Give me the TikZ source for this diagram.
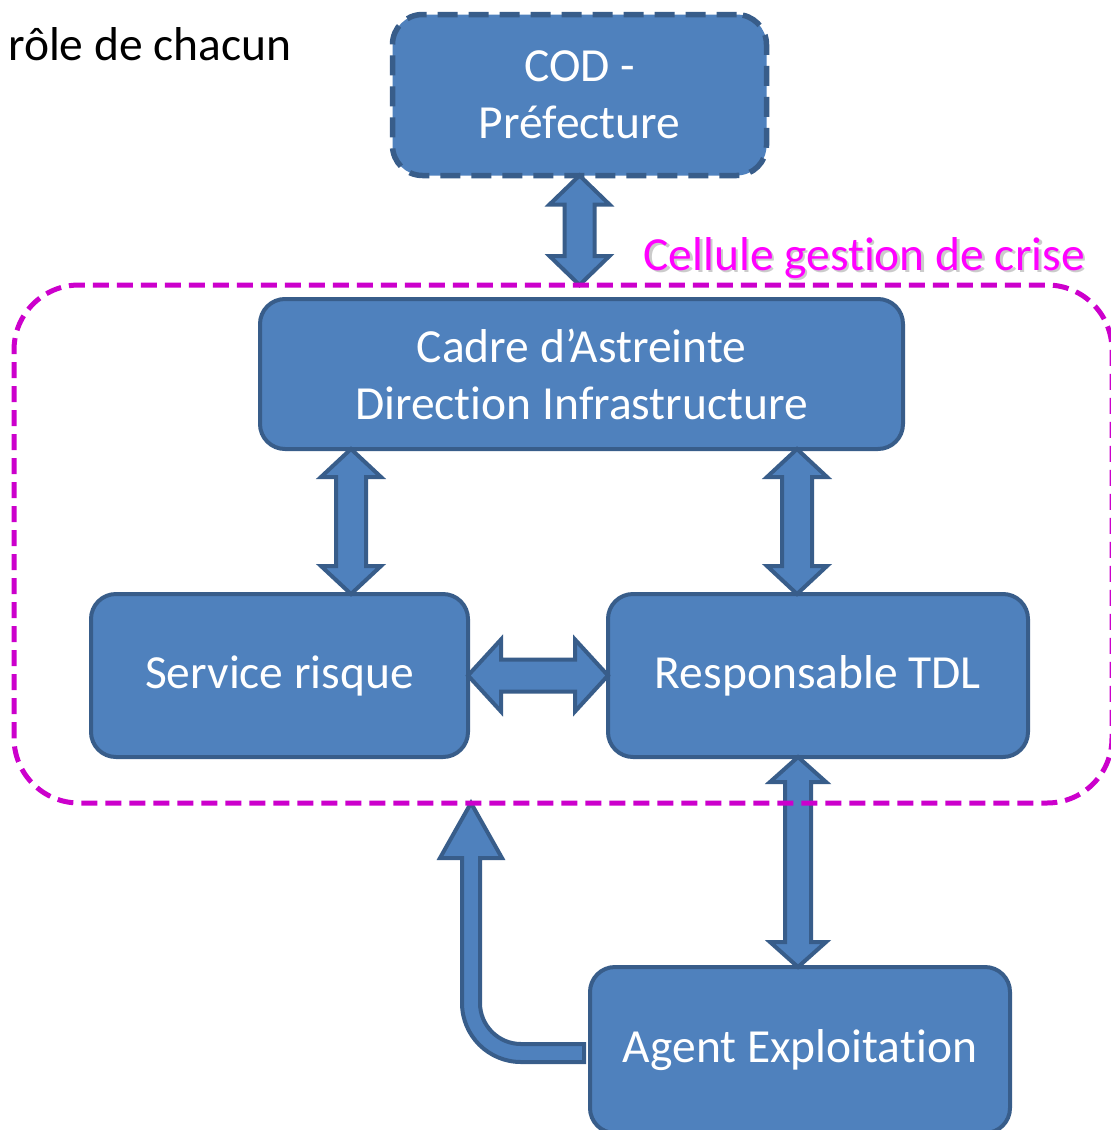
\documentclass[tikz,border=0pt]{standalone}
\usepackage{fontspec}
\setmainfont{Carlito}[Ligatures={NoCommon}, RawFeature={-liga;-dlig}]
\usetikzlibrary{calc}

\definecolor{boxfill}{HTML}{4F81BD}
\definecolor{boxline}{HTML}{385D8A}
\definecolor{crisis}{HTML}{CC00CC}
\definecolor{crisistext}{HTML}{FF00FF}

% vertical double block arrow: #1 top point, #2 bottom point,
% #3 half shaft, #4 half head, #5 head length (pt)
\newcommand{\VBiArrow}[5]{%
  \draw[blockarrow] let \p1=(#1), \p2=(#2) in
    (\x1,\y1) -- (\x1+#4pt,\y1-#5pt) -- (\x1+#3pt,\y1-#5pt)
    -- (\x1+#3pt,\y2+#5pt) -- (\x1+#4pt,\y2+#5pt) -- (\x1,\y2)
    -- (\x1-#4pt,\y2+#5pt) -- (\x1-#3pt,\y2+#5pt)
    -- (\x1-#3pt,\y1-#5pt) -- (\x1-#4pt,\y1-#5pt) -- cycle;}

% horizontal double block arrow: #1 left point, #2 right point
\newcommand{\HBiArrow}[5]{%
  \draw[blockarrow] let \p1=(#1), \p2=(#2) in
    (\x1,\y1) -- (\x1+#5pt,\y1+#4pt) -- (\x1+#5pt,\y1+#3pt)
    -- (\x2-#5pt,\y1+#3pt) -- (\x2-#5pt,\y1+#4pt) -- (\x2,\y1)
    -- (\x2-#5pt,\y1-#4pt) -- (\x2-#5pt,\y1-#3pt)
    -- (\x1+#5pt,\y1-#3pt) -- (\x1+#5pt,\y1-#4pt) -- cycle;}

\tikzset{
  blockarrow/.style={fill=boxfill, draw=boxline, line width=4pt, line join=miter},
  rolebox/.style={rectangle, rounded corners=25pt, fill=boxfill, draw=boxline,
    line width=4pt, inner sep=0pt, outer sep=0pt, text=white, align=center,
    font=\fontsize{47.5}{57}\selectfont},
  codbox/.style={rolebox, rounded corners=30pt, line width=5.5pt,
    dash pattern=on 20pt off 11pt},
  crisisframe/.style={draw=crisis, line width=5pt, rounded corners=65pt,
    dash pattern=on 16pt off 8pt},
  bigtext/.style={font=\fontsize{47.5}{57}\selectfont, inner sep=0pt}
}

\begin{document}
\begin{tikzpicture}[x=1pt, y=-1pt]
  \clip (0,0) rectangle (1111,1130);
  \fill[white] (0,0) rectangle (1111,1130);

  % title in the corner
  \node[bigtext, anchor=base west] (title) at (8,60) {rôle de chacun};

  % the crisis cell frame (drawn later, on top of the arrows)
  \path (563,544) node[minimum width=1098pt, minimum height=518pt,
    inner sep=0pt, outer sep=0pt] (cellule) {};

  % boxes
  \node[codbox, minimum width=374pt, minimum height=161pt] (cod)
    at (579.5,95) {COD -\\Préfecture};
  \node[rolebox, minimum width=643pt, minimum height=150pt] (cadre)
    at (581.5,374) {Cadre d’Astreinte\\Direction Infrastructure};
  \node[rolebox, minimum width=377pt, minimum height=163pt] (svc)
    at (279.5,675.5) {\raisebox{-3pt}{Service risque}};
  \node[rolebox, minimum width=420pt, minimum height=163pt] (tdl)
    at (818,675.5) {\raisebox{-3pt}{Responsable TDL}};
  \node[rolebox, minimum width=420pt, minimum height=166pt] (agent)
    at (800,1050) {\raisebox{-3pt}{Agent Exploitation}};

  % label of the crisis cell, with its soft shadow
  \node[bigtext, anchor=base east, text=black!40, opacity=0.5] (celluleshadow)
    at (1087.5,272.5) {Cellule gestion de crise};
  \node[bigtext, anchor=base east, text=crisistext] (cellulelabel)
    at (1085,270) {Cellule gestion de crise};

  % connector end points
  \coordinate (codbot) at (cod.south);
  \coordinate (celltop) at (cod.south |- cellule.north);
  \coordinate (cadreL) at ([xshift=-230.5pt]cadre.south);
  \coordinate (svcTop) at (cadreL |- svc.north);
  \coordinate (cadreR) at ([xshift=215.5pt]cadre.south);
  \coordinate (tdlTop) at (cadreR |- tdl.north);
  \coordinate (tdlBot) at ([xshift=-20pt]tdl.south);
  \coordinate (agentTop) at (tdlBot |- agent.north);
  \coordinate (cellBot) at ([xshift=-92pt]cellule.south);
  \coordinate (agentTail) at ([shift={(-6pt,-3pt)}]agent.west);

  % block arrows
  \VBiArrow{codbot}{celltop}{15}{30}{29}
  \VBiArrow{cadreL}{svcTop}{15}{30}{28}
  \VBiArrow{cadreR}{tdlTop}{15}{30}{28}
  \HBiArrow{svc.east}{tdl.west}{16}{36}{33}
  \VBiArrow{tdlBot}{agentTop}{13}{28}{25}

  % bent arrow from the field agent up to the crisis cell
  \draw[blockarrow] let \p1=(cellBot), \p2=(agentTail) in
    (\x1,\y1) -- (\x1+31pt,\y1-55pt) -- (\x1+9pt,\y1-55pt)
    -- (\x1+9pt,\y2+50pt)
    .. controls (\x1+9pt,\y2+27.4pt) and (\x1+27.4pt,\y2+9pt) .. (\x1+50pt,\y2+9pt)
    -- (\x2,\y2+9pt) -- (\x2,\y2-9pt) -- (\x1+50pt,\y2-9pt)
    .. controls (\x1+17.4pt,\y2-9pt) and (\x1-9pt,\y2+17.4pt) .. (\x1-9pt,\y2+50pt)
    -- (\x1-9pt,\y1-55pt) -- (\x1-31pt,\y1-55pt) -- cycle;

  % crisis cell frame
  \draw[crisisframe] (cellule.south west) rectangle (cellule.north east);
\end{tikzpicture}
\end{document}
